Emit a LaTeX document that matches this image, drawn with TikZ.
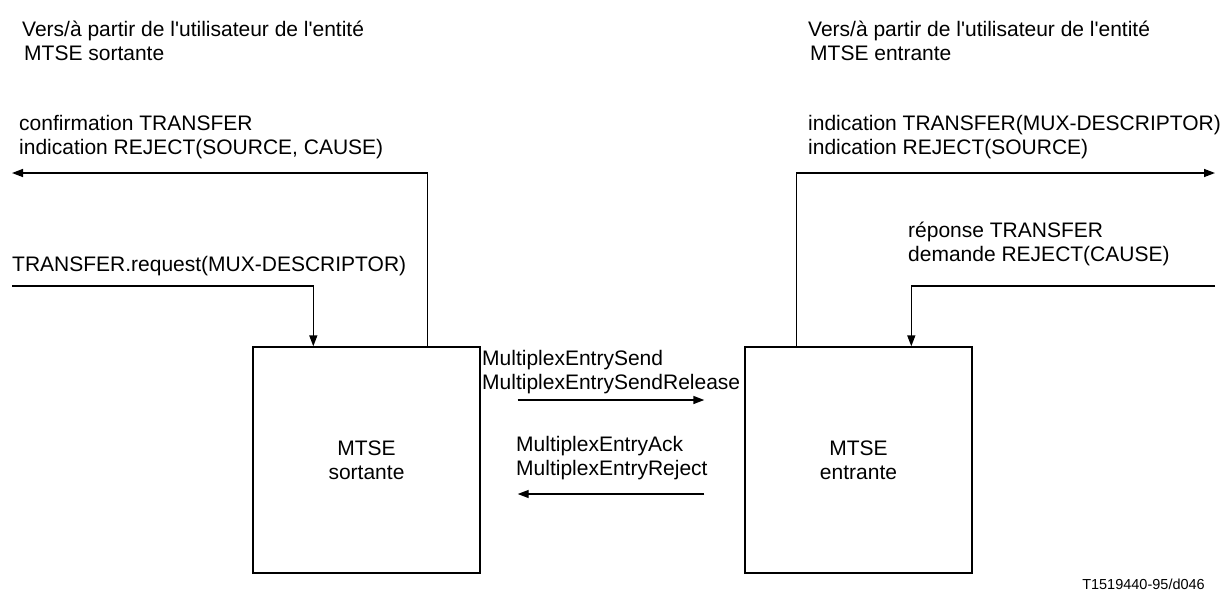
\documentclass[tikz,border=0pt]{standalone}
\usepackage{fontspec}
\setmainfont{Liberation Sans}
\usepackage{tikz}
\usetikzlibrary{arrows.meta,positioning,calc}

\begin{document}
\begin{tikzpicture}[
    x=1pt, y=-1pt,
    font=\fontsize{21}{24}\selectfont,
    mtsebox/.style={
        rectangle, draw, line width=1.4pt,
        minimum width=227pt, minimum height=226pt,
        align=center, inner sep=0pt
    },
    lbl/.style={anchor=west, align=left, inner sep=0pt},
    sig/.style={line width=1.4pt, -{Triangle[length=11pt,width=8pt]}}
]
\useasboundingbox (0,0) rectangle (1226,590);

% entites
\node[mtsebox] (sortante) at (366.5,460) {MTSE\\sortante};
\node[mtsebox] (entrante) at (858.5,460) {MTSE\\entrante};

% textes cote sortant
\node[lbl] (userL) at (22,40.5)  {Vers/à partir de l\textquotesingle utilisateur de l\textquotesingle entité\\\hspace{2pt}MTSE sortante};
\node[lbl] (confL) at (19,137)   {confirmation TRANSFER\\indication REJECT(SOURCE, CAUSE)};
\node[lbl] (reqL)  at (12,266)   {TRANSFER.request(MUX-DESCRIPTOR)};

% textes cote entrant
\node[lbl] (userR) at (808,40.5) {Vers/à partir de l\textquotesingle utilisateur de l\textquotesingle entité\\\hspace{2pt}MTSE entrante};
\node[lbl] (indR)  at (808,137)  {indication TRANSFER(MUX-DESCRIPTOR)\\indication REJECT(SOURCE)};
\node[lbl] (repR)  at (908,244)  {réponse TRANSFER\\demande REJECT(CAUSE)};

% messages
\node[lbl] (sendM) at (482,372)  {MultiplexEntrySend\\MultiplexEntrySendRelease};
\node[lbl] (ackM)  at (516,458)  {MultiplexEntryAck\\MultiplexEntryReject};

\node[anchor=east, inner sep=0pt, font=\fontsize{14.5}{16}\selectfont] (ref) at (1205,584) {T1519440-95/d046};

\coordinate (confEnd) at (12,173);
\coordinate (reqStart) at (12,286);
\coordinate (indEnd) at (1215,173);
\coordinate (repStart) at (1215,286);

\draw[sig] ($(sortante.north east)+(-53,0)$) |- (confEnd);
\draw[sig] (reqStart) -| ($(sortante.north west)+(61,0)$);
\draw[sig] ($(entrante.north west)+(52,0)$) |- (indEnd);
\draw[sig] (repStart) -| ($(entrante.north west)+(167,0)$);

\draw[sig] ($(sortante.east)+(37,-60)$) -- ($(entrante.west)+(-40,-60)$);
\draw[sig] ($(entrante.west)+(-40,34)$) -- ($(sortante.east)+(37,34)$);
\end{tikzpicture}
\end{document}
